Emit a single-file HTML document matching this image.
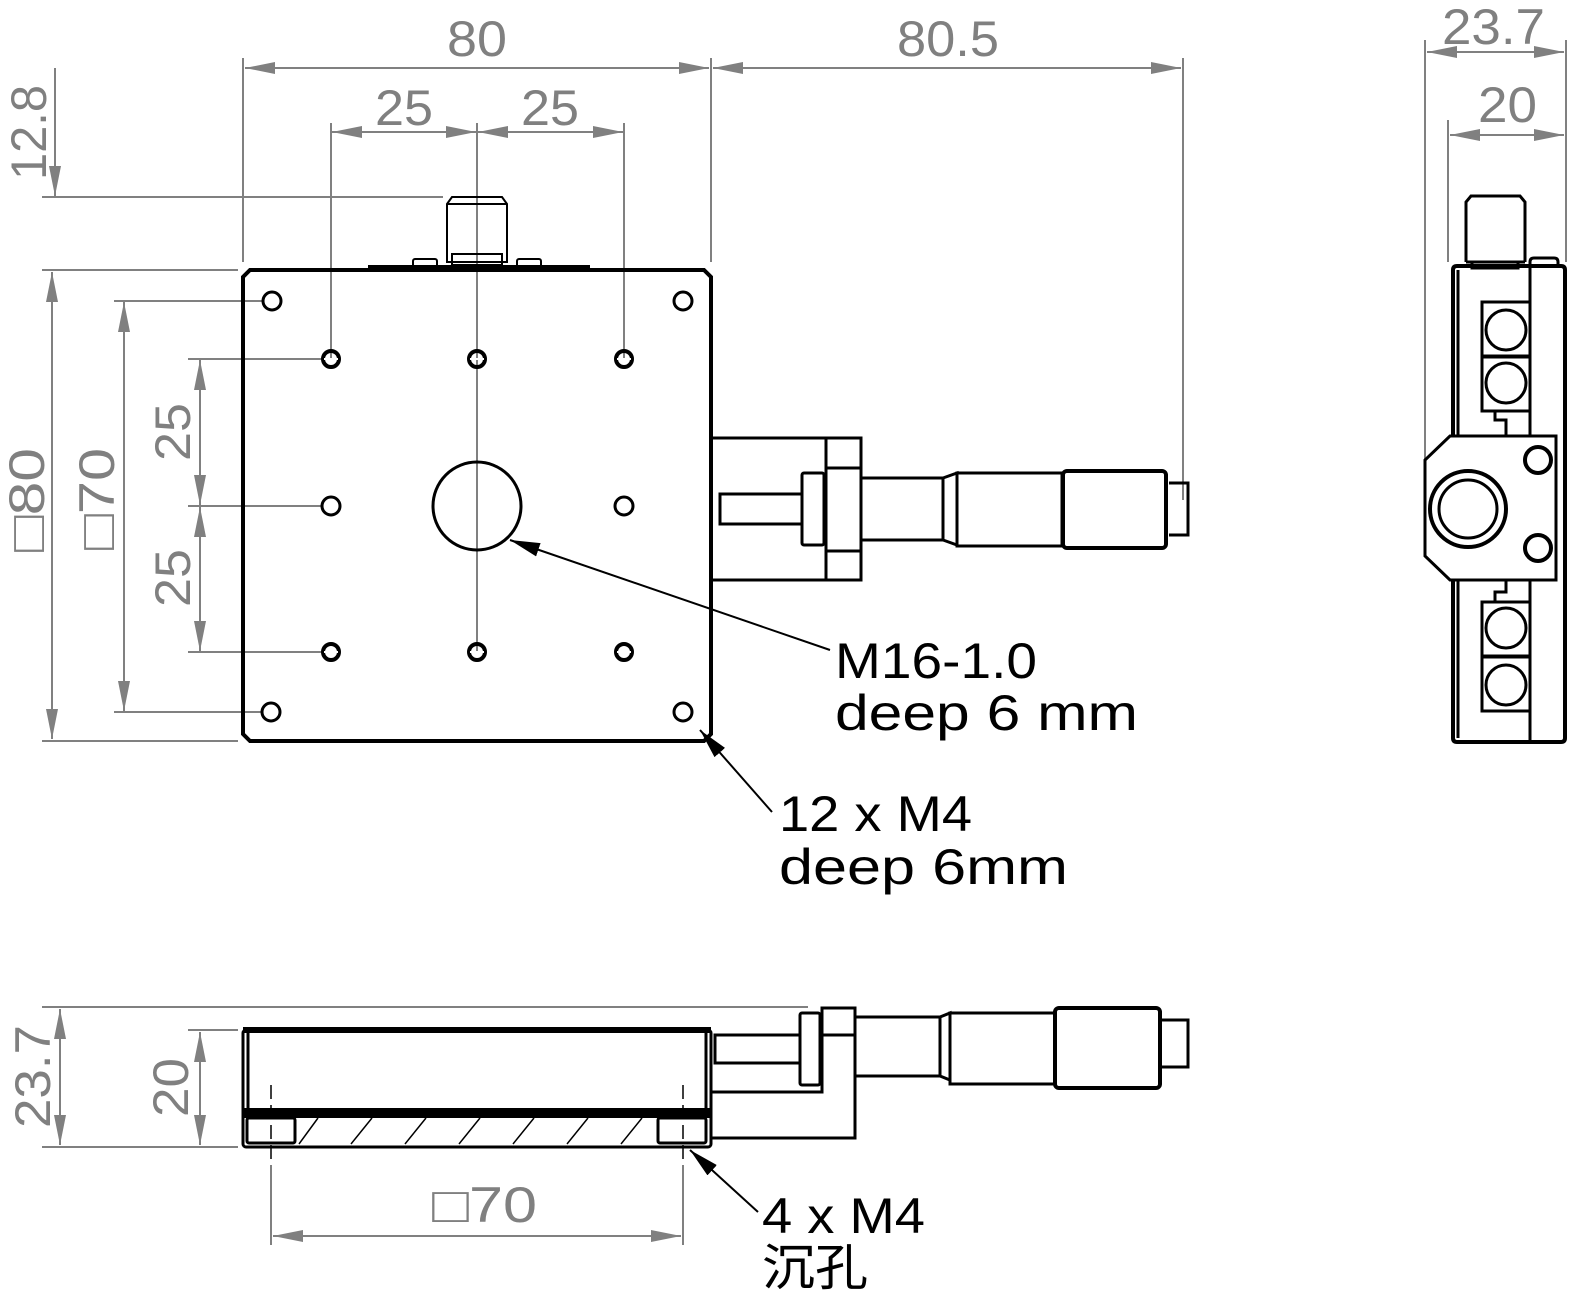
<!DOCTYPE html>
<html><head><meta charset="utf-8"><style>
html,body{margin:0;padding:0;background:#fff}
svg{display:block}
.g{stroke:#808080;stroke-width:2;fill:none}
.k{stroke:#000;stroke-width:3;fill:none}
.kt{stroke:#000;stroke-width:2;fill:none}
.tg{fill:#808080;font-family:"Liberation Sans",sans-serif;font-size:50px}
.tk{fill:#000;font-family:"Liberation Sans","Noto Sans CJK SC",sans-serif;font-size:50px}
</style></head><body>
<svg width="1578" height="1313" viewBox="0 0 1578 1313" xmlns="http://www.w3.org/2000/svg">
<defs>
<marker id="a" viewBox="0 0 30 12" refX="30" refY="6" markerWidth="30" markerHeight="12" markerUnits="userSpaceOnUse" orient="auto-start-reverse"><path d="M0,0 L30,6 L0,12 z" fill="#808080"/></marker>
<marker id="b" viewBox="0 0 30 14" refX="30" refY="7" markerWidth="30" markerHeight="14" markerUnits="userSpaceOnUse" orient="auto"><path d="M0,0 L30,7 L0,14 z" fill="#000"/></marker>
</defs>

<!-- ===== TOP VIEW dims ===== -->
<g class="g">
<line x1="243" y1="58" x2="243" y2="262"/><line x1="711" y1="58" x2="711" y2="262"/>
<line x1="1183" y1="58" x2="1183" y2="500"/>
<line x1="245" y1="68" x2="709" y2="68" marker-start="url(#a)" marker-end="url(#a)"/>
<line x1="713" y1="68" x2="1181" y2="68" marker-start="url(#a)" marker-end="url(#a)"/>
<line x1="331" y1="123" x2="331" y2="359"/><line x1="477" y1="123" x2="477" y2="652"/><line x1="624" y1="123" x2="624" y2="359"/>
<line x1="332" y1="132" x2="476" y2="132" marker-start="url(#a)" marker-end="url(#a)"/>
<line x1="478" y1="132" x2="623" y2="132" marker-start="url(#a)" marker-end="url(#a)"/>
<line x1="42" y1="197" x2="443" y2="197"/><line x1="42" y1="270" x2="238" y2="270"/>
<line x1="55" y1="68" x2="55" y2="196" marker-end="url(#a)"/>
<line x1="52" y1="272" x2="52" y2="739" marker-start="url(#a)" marker-end="url(#a)"/>
<line x1="42" y1="741" x2="238" y2="741"/>
<line x1="114" y1="301" x2="262" y2="301"/><line x1="114" y1="712" x2="262" y2="712"/>
<line x1="124" y1="302" x2="124" y2="711" marker-start="url(#a)" marker-end="url(#a)"/>
<line x1="188" y1="359" x2="321" y2="359"/><line x1="188" y1="506" x2="321" y2="506"/><line x1="188" y1="652" x2="321" y2="652"/>
<line x1="200" y1="360" x2="200" y2="505" marker-start="url(#a)" marker-end="url(#a)"/>
<line x1="200" y1="507" x2="200" y2="651" marker-start="url(#a)" marker-end="url(#a)"/>
</g>
<text class="tg" x="447" y="56" textLength="60" lengthAdjust="spacingAndGlyphs">80</text>
<text class="tg" x="897" y="56" textLength="102" lengthAdjust="spacingAndGlyphs">80.5</text>
<text class="tg" x="375" y="125" textLength="58" lengthAdjust="spacingAndGlyphs">25</text>
<text class="tg" x="521" y="125" textLength="58" lengthAdjust="spacingAndGlyphs">25</text>
<text class="tg" transform="translate(46,180) rotate(-90)" textLength="95" lengthAdjust="spacingAndGlyphs">12.8</text>
<text class="tg" transform="translate(44,552) rotate(-90)" textLength="104" lengthAdjust="spacingAndGlyphs">□80</text>
<text class="tg" transform="translate(114,550) rotate(-90)" textLength="102" lengthAdjust="spacingAndGlyphs">□70</text>
<text class="tg" transform="translate(190,461) rotate(-90)" textLength="58" lengthAdjust="spacingAndGlyphs">25</text>
<text class="tg" transform="translate(190,607) rotate(-90)" textLength="58" lengthAdjust="spacingAndGlyphs">25</text>

<!-- ===== TOP VIEW part ===== -->
<path class="k" d="M250,270 H704 L711,277 V734 L704,741 H250 L243,734 V277 Z" style="stroke-width:4"/>
<rect x="368" y="265" width="222" height="5" fill="#000"/>
<rect class="kt" x="413" y="259" width="24" height="8" rx="2"/>
<rect class="kt" x="517" y="259" width="24" height="8" rx="2"/>
<rect class="kt" x="452" y="254" width="50" height="11"/>
<path class="kt" d="M447,262 V204 L452,197 H502 L507,204 V262 Z"/>
<line class="kt" x1="447" y1="204" x2="507" y2="204"/>
<g class="k">
<circle cx="272" cy="301" r="9"/><circle cx="683" cy="301" r="9"/>
<circle cx="271" cy="712" r="9"/><circle cx="683" cy="712" r="9"/>
<circle cx="331" cy="506" r="9"/><circle cx="624" cy="506" r="9"/>
<circle cx="477" cy="506" r="44"/>
</g>
<g class="k" style="stroke-width:4">
<circle cx="331" cy="359" r="8"/><circle cx="477" cy="359" r="8"/><circle cx="624" cy="359" r="8"/>
<circle cx="331" cy="652" r="8"/><circle cx="477" cy="652" r="8"/><circle cx="624" cy="652" r="8"/>
</g>
<g stroke="#fff" stroke-width="2">
<line x1="324" y1="359" x2="338" y2="359"/><line x1="470" y1="359" x2="484" y2="359"/><line x1="617" y1="359" x2="631" y2="359"/>
<line x1="324" y1="652" x2="338" y2="652"/><line x1="470" y1="652" x2="484" y2="652"/><line x1="617" y1="652" x2="631" y2="652"/>
</g>

<!-- micrometer top view -->
<g class="k">
<path d="M712,438 H861 V580 H712"/>
<line x1="826" y1="438" x2="826" y2="580"/>
<line x1="826" y1="468" x2="861" y2="468"/><line x1="826" y1="551" x2="861" y2="551"/>
<rect x="720" y="494" width="82" height="30"/>
<rect x="802" y="473" width="22" height="72" rx="2"/>
<line x1="861" y1="478" x2="943" y2="478"/><line x1="861" y1="540" x2="943" y2="540"/>
<path d="M943,478 L943,540 L957,545 V473 Z"/>
<rect x="957" y="473" width="105" height="73"/>
<rect x="1063" y="471" width="103" height="77" rx="4" style="stroke-width:4"/>
<path d="M1169,483 H1188 V535 H1169"/>
</g>

<!-- leaders -->
<line x1="830" y1="650" x2="510" y2="540" stroke="#000" stroke-width="2" marker-end="url(#b)"/>
<line x1="772" y1="812" x2="700" y2="730" stroke="#000" stroke-width="2" marker-end="url(#b)"/>
<text class="tk" x="835" y="678" textLength="202" lengthAdjust="spacingAndGlyphs">M16-1.0</text>
<text class="tk" x="835" y="730" textLength="303" lengthAdjust="spacingAndGlyphs">deep 6 mm</text>
<text class="tk" x="779" y="831" textLength="193" lengthAdjust="spacingAndGlyphs">12 x M4</text>
<text class="tk" x="779" y="884" textLength="289" lengthAdjust="spacingAndGlyphs">deep 6mm</text>

<!-- ===== SIDE VIEW ===== -->
<g class="g">
<line x1="1425" y1="40" x2="1425" y2="480"/><line x1="1566" y1="40" x2="1566" y2="262"/>
<line x1="1448" y1="120" x2="1448" y2="262"/>
<line x1="1427" y1="52" x2="1564" y2="52" marker-start="url(#a)" marker-end="url(#a)"/>
<line x1="1450" y1="135" x2="1564" y2="135" marker-start="url(#a)" marker-end="url(#a)"/>
</g>
<text class="tg" x="1442" y="44" textLength="103" lengthAdjust="spacingAndGlyphs">23.7</text>
<text class="tg" x="1478" y="122" textLength="59" lengthAdjust="spacingAndGlyphs">20</text>
<g class="k">
<path d="M1466,262 V202 L1471,196 H1520 L1525,202 V262"/>
<line x1="1466" y1="262" x2="1525" y2="262"/>
<rect x="1472" y="262" width="46" height="6"/>
<path d="M1453,270 Q1453,266 1457,266 H1561 Q1565,266 1565,270 V738 Q1565,742 1561,742 H1457 Q1453,742 1453,738 Z" style="stroke-width:4"/>
<line x1="1458" y1="270" x2="1458" y2="738"/>
<path d="M1530,742 V262 Q1530,258 1534,258 H1554 Q1558,258 1558,262 V268"/>
<rect x="1482" y="302" width="48" height="54"/><rect x="1482" y="357" width="48" height="54"/>
<circle cx="1506" cy="330" r="20"/><circle cx="1506" cy="383" r="20"/>
<path d="M1495,411 V420 H1506 V436"/>
<rect x="1482" y="602" width="48" height="54"/><rect x="1482" y="657" width="48" height="54"/>
<circle cx="1506" cy="628" r="20"/><circle cx="1506" cy="685" r="20"/>
<path d="M1495,602 V592 H1506 V580"/>
<path d="M1450,436 H1556 V580 H1450 L1425,556 V460 Z" fill="#fff"/>
<circle cx="1468" cy="509" r="38" style="stroke-width:4"/>
<circle cx="1468" cy="509" r="29"/>
<circle cx="1538" cy="460" r="13" style="stroke-width:4"/>
<circle cx="1538" cy="548" r="13" style="stroke-width:4"/>
</g>

<!-- ===== FRONT (bottom) VIEW ===== -->
<g class="g">
<line x1="42" y1="1007" x2="808" y2="1007"/>
<line x1="188" y1="1030" x2="238" y2="1030"/>
<line x1="42" y1="1147" x2="238" y2="1147"/>
<line x1="60" y1="1009" x2="60" y2="1145" marker-start="url(#a)" marker-end="url(#a)"/>
<line x1="200" y1="1032" x2="200" y2="1145" marker-start="url(#a)" marker-end="url(#a)"/>
<line x1="271" y1="1165" x2="271" y2="1245"/><line x1="683" y1="1165" x2="683" y2="1245"/>
<line x1="273" y1="1236" x2="681" y2="1236" marker-start="url(#a)" marker-end="url(#a)"/>
</g>
<text class="tg" transform="translate(50,1128) rotate(-90)" textLength="103" lengthAdjust="spacingAndGlyphs">23.7</text>
<text class="tg" transform="translate(188,1117) rotate(-90)" textLength="59" lengthAdjust="spacingAndGlyphs">20</text>
<text class="tg" x="432" y="1222" textLength="105" lengthAdjust="spacingAndGlyphs">□70</text>

<g class="k">
<rect x="243" y="1030" width="468" height="117" rx="3"/>
<line x1="248" y1="1033" x2="248" y2="1110"/><line x1="706" y1="1033" x2="706" y2="1110"/>
<rect x="247" y="1118" width="48" height="25" rx="2"/>
<rect x="658" y="1118" width="48" height="25" rx="2"/>
</g>
<rect x="243" y="1027" width="468" height="6" fill="#000"/>
<rect x="243" y="1108" width="468" height="10" fill="#000"/>
<g stroke="#000" stroke-width="1.5">
<line x1="318" y1="1118" x2="299" y2="1144"/><line x1="372" y1="1118" x2="351" y2="1144"/>
<line x1="426" y1="1118" x2="405" y2="1144"/><line x1="480" y1="1118" x2="459" y2="1144"/>
<line x1="534" y1="1118" x2="513" y2="1144"/><line x1="588" y1="1118" x2="567" y2="1144"/>
<line x1="642" y1="1118" x2="621" y2="1144"/>
</g>
<g stroke="#000" stroke-width="1.5" stroke-dasharray="14,6">
<line x1="271" y1="1085" x2="271" y2="1162"/><line x1="683" y1="1085" x2="683" y2="1162"/>
</g>
<g class="k">
<rect x="715" y="1035" width="85" height="28"/>
<rect x="800" y="1013" width="20" height="72" rx="2"/>
<path d="M711,1138 H855 V1008 H822 V1092 H711"/>
<line x1="822" y1="1035" x2="855" y2="1035"/>
<line x1="855" y1="1017" x2="940" y2="1017"/><line x1="855" y1="1076" x2="940" y2="1076"/>
<path d="M940,1017 V1076 L950,1080 V1013 Z"/>
<rect x="950" y="1013" width="105" height="71"/>
<rect x="1055" y="1008" width="105" height="80" rx="4" style="stroke-width:4"/>
<path d="M1162,1020 H1188 V1067 H1162"/>
</g>
<line x1="758" y1="1212" x2="690" y2="1150" stroke="#000" stroke-width="2" marker-end="url(#b)"/>
<text class="tk" x="762" y="1233" textLength="163" lengthAdjust="spacingAndGlyphs">4 x M4</text>
<text class="tk" x="762" y="1285" textLength="106" lengthAdjust="spacingAndGlyphs">沉孔</text>
</svg>
</body></html>
